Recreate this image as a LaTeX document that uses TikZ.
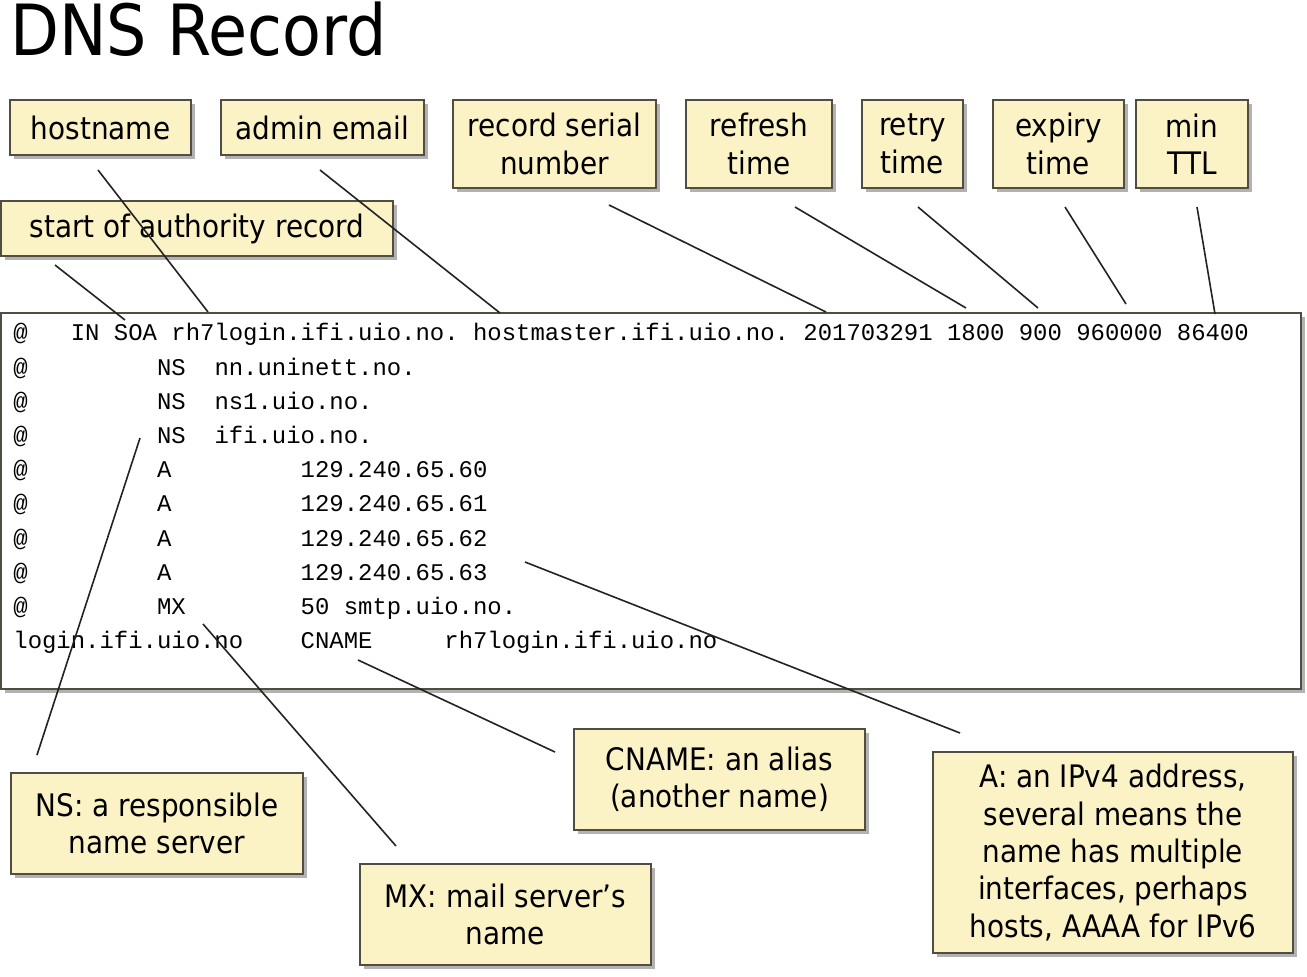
\documentclass[tikz,border=0pt]{standalone}
\usepackage{fontspec}
\setmainfont{DejaVu Sans}[FakeStretch=0.9]
\setmonofont{Liberation Mono}
\usetikzlibrary{shadows}
\definecolor{boxfill}{RGB}{251,242,197}
\definecolor{boxline}{RGB}{80,78,66}
\definecolor{lnkcol}{RGB}{35,35,35}
\begin{document}
\begin{tikzpicture}[x=0.5pt,y=-0.5pt,
  lbl/.style={draw=boxline, line width=0.9pt, fill=boxfill, inner sep=0pt, align=center,
    font=\fontsize{15.5}{18.7}\selectfont,
    drop shadow={shadow xshift=2pt, shadow yshift=-2pt, fill=black, opacity=0.3}},
  mono/.style={anchor=base west, inner sep=0pt, font=\ttfamily\fontsize{11.97}{14}\selectfont},
  lnk/.style={draw=lnkcol, line width=0.8pt}]
\useasboundingbox[fill=white] (0,0) rectangle (1307,976);

% title
\node[anchor=base west, inner sep=0pt, font=\fontsize{35.3}{40}\selectfont] (title) at (10,55) {DNS Record};

% main record box
\node[draw=boxline, line width=0.9pt, fill=white, minimum width=650pt, minimum height=188pt, inner sep=0pt,
  drop shadow={shadow xshift=2pt, shadow yshift=-2pt, fill=black, opacity=0.3}] (rec) at (651,501) {};

\node[mono] (r1) at (13,340) {@\ \ \ IN SOA rh7login.ifi.uio.no. hostmaster.ifi.uio.no. 201703291 1800 900 960000 86400};
\node[mono] (r2) at (13,375) {@\ \ \ \ \ \ \ \ \ NS\ \ nn.uninett.no.};
\node[mono] (r3) at (13,409) {@\ \ \ \ \ \ \ \ \ NS\ \ ns1.uio.no.};
\node[mono] (r4) at (13,443) {@\ \ \ \ \ \ \ \ \ NS\ \ ifi.uio.no.};
\node[mono] (r5) at (13,477) {@\ \ \ \ \ \ \ \ \ A\ \ \ \ \ \ \ \ \ 129.240.65.60};
\node[mono] (r6) at (13,511) {@\ \ \ \ \ \ \ \ \ A\ \ \ \ \ \ \ \ \ 129.240.65.61};
\node[mono] (r7) at (13,546) {@\ \ \ \ \ \ \ \ \ A\ \ \ \ \ \ \ \ \ 129.240.65.62};
\node[mono] (r8) at (13,580) {@\ \ \ \ \ \ \ \ \ A\ \ \ \ \ \ \ \ \ 129.240.65.63};
\node[mono] (r9) at (13,614) {@\ \ \ \ \ \ \ \ \ MX\ \ \ \ \ \ \ \ 50 smtp.uio.no.};
\node[mono] (r10) at (13,648) {login.ifi.uio.no\ \ \ \ CNAME\ \ \ \ \ rh7login.ifi.uio.no};

% top labels
\node[lbl, minimum width=90.5pt, minimum height=27.5pt] (host) at (100.5,127.5) {hostname};
\node[lbl, minimum width=101.5pt, minimum height=27.5pt] (admin) at (322.5,127.5) {admin email};
\node[lbl, minimum width=101.5pt, minimum height=44pt] (serial) at (554.5,144) {record serial\\number};
\node[lbl, minimum width=73pt, minimum height=44pt] (refresh) at (759,144) {refresh\\time};
\node[lbl, minimum width=50.5pt, minimum height=44pt] (retry) at (912.5,144) {retry\\time};
\node[lbl, minimum width=65.5pt, minimum height=44pt] (expiry) at (1058.5,144) {expiry\\time};
\node[lbl, minimum width=56pt, minimum height=44pt] (ttl) at (1192,144) {min\\TTL};
\node[lbl, minimum width=196pt, minimum height=27.5pt] (soa) at (197,228.5) {start of authority record};

% bottom labels
\node[lbl, minimum width=146pt, minimum height=50.5pt] (ns) at (157,823.5) {NS: a responsible\\name server};
\node[lbl, minimum width=145.5pt, minimum height=50.5pt] (mx) at (505.5,914.5) {MX: mail server’s\\name};
\node[lbl, minimum width=145.5pt, minimum height=50.5pt] (cname) at (719.5,779.5) {CNAME: an alias\\(another name)};
\node[lbl, minimum width=180pt, minimum height=100.5pt] (arec) at (1113,852.5) {A: an IPv4 address,\\several means the\\name has multiple\\interfaces, perhaps\\hosts, AAAA for IPv6};

% connector end points
\coordinate (soaA) at (55,265);   \coordinate (soaB) at (125,320);
\coordinate (hostA) at (98,170);  \coordinate (hostB) at (208,312);
\coordinate (adminA) at (320,170); \coordinate (adminB) at (500,313);
\coordinate (serialA) at (609,205); \coordinate (serialB) at (826,312);
\coordinate (refreshA) at (795,207); \coordinate (refreshB) at (966,308);
\coordinate (retryA) at (918,207); \coordinate (retryB) at (1038,308);
\coordinate (expiryA) at (1065,207); \coordinate (expiryB) at (1126,304);
\coordinate (ttlA) at (1197,207); \coordinate (ttlB) at (1215,314);
\coordinate (nsA) at (140,438); \coordinate (nsB) at (37,755);
\coordinate (mxA) at (203,624); \coordinate (mxB) at (396,846);
\coordinate (cnA) at (358,660); \coordinate (cnB) at (555,752);
\coordinate (aA) at (525,562); \coordinate (aB) at (960,733);

\draw[lnk] (soaA) -- (soaB);
\draw[lnk] (hostA) -- (hostB);
\draw[lnk] (adminA) -- (adminB);
\draw[lnk] (serialA) -- (serialB);
\draw[lnk] (refreshA) -- (refreshB);
\draw[lnk] (retryA) -- (retryB);
\draw[lnk] (expiryA) -- (expiryB);
\draw[lnk] (ttlA) -- (ttlB);
\draw[lnk] (nsA) -- (nsB);
\draw[lnk] (mxA) -- (mxB);
\draw[lnk] (cnA) -- (cnB);
\draw[lnk] (aA) -- (aB);
\end{tikzpicture}
\end{document}
